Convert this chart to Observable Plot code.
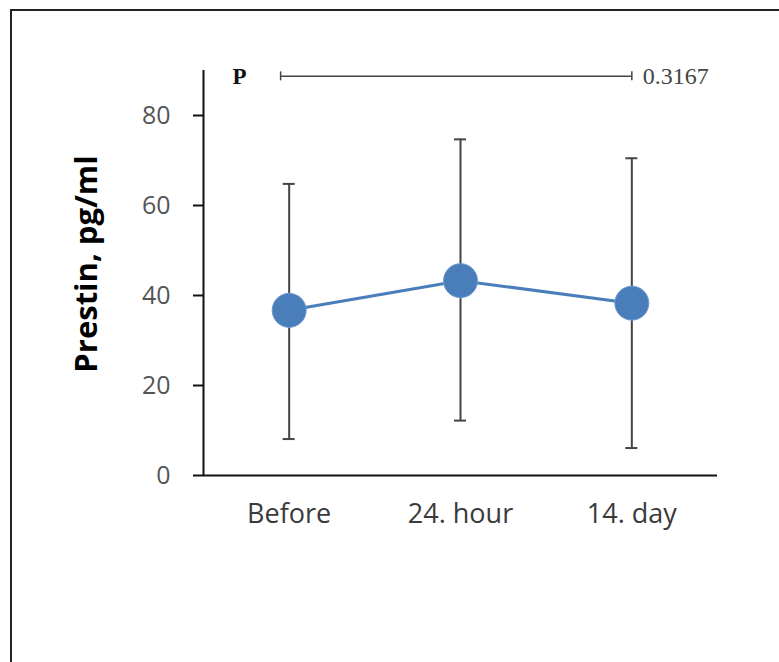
<!DOCTYPE html>
<html>
<head>
<meta charset="utf-8">
<script src="https://cdn.jsdelivr.net/npm/d3@7"></script>
<script src="https://cdn.jsdelivr.net/npm/@observablehq/plot@0.6"></script>
<style>
  html, body { margin: 0; padding: 0; background: #fff; }
  #wrap { position: relative; width: 779px; height: 662px; overflow: hidden; }
  #frame { position: absolute; left: 10px; top: 9px; width: 900px; height: 900px;
           border-top: 2px solid #222; border-left: 2px solid #222; box-sizing: border-box; pointer-events: none; }
  #chart { position: absolute; left: 0; top: 0; }
</style>
</head>
<body>
<div id="wrap"><div id="chart"></div><div id="frame"></div></div>
<script>
const categories = ["Before", "24. hour", "14. day"];
const means = [36.7, 43.3, 38.3];
const upper = [64.8, 74.7, 70.5];
const lower = [8.1, 12.2, 6.1];
const yTicks = [0, 20, 40, 60, 80];
const yLabel = "Prestin, pg/ml";
const pLabel = "P";
const pValue = "0.3167";
const bracketFrom = -0.05, bracketTo = 2, bracketY = 88.7;

const data = categories.map((c, i) => ({i, c, m: means[i], hi: upper[i], lo: lower[i]}));
const capW = 0.035;
const blue = "#4a7ebb";

const plot = Plot.plot({
  width: 779,
  height: 662,
  marginLeft: 203,
  marginRight: 62,
  marginTop: 70,
  marginBottom: 187,
  style: {fontFamily: "'Open Sans', sans-serif", background: "transparent", overflow: "visible"},
  x: {domain: [-0.5, 2.5], axis: null},
  y: {domain: [0, 90], axis: null},
  marks: [
    // y axis ticks and labels
    Plot.axisY({ticks: yTicks, tickSize: 10, tickPadding: 23, stroke: "#111", strokeWidth: 2,
      fill: "#555", fontSize: 25, label: null, tickFormat: d => String(d)}),
    // axis lines
    Plot.ruleX([-0.5], {y1: 0, y2: 90, stroke: "#111", strokeWidth: 2}),
    Plot.ruleY([0], {stroke: "#111", strokeWidth: 2}),
    // category labels
    Plot.text(data, {x: "i", y: 0, text: "c", dy: 39, fontSize: 27, fill: "#3a3a3a"}),
    // y-axis title
    Plot.text([yLabel], {x: -0.5, y: 47, text: d => d, rotate: -90, dx: -116, dy: 0,
      fontSize: 31, fontWeight: "bold", fill: "#000"}),
    // error bars
    Plot.ruleX(data, {x: "i", y1: "lo", y2: "hi", stroke: "#444", strokeWidth: 2}),
    Plot.ruleY(data, {y: "hi", x1: d => d.i - capW, x2: d => d.i + capW, stroke: "#444", strokeWidth: 2}),
    Plot.ruleY(data, {y: "lo", x1: d => d.i - capW, x2: d => d.i + capW, stroke: "#444", strokeWidth: 2}),
    // mean line and dots
    Plot.line(data, {x: "i", y: "m", stroke: blue, strokeWidth: 3}),
    Plot.dot(data, {x: "i", y: "m", r: 17, fill: blue, stroke: "#6f9ad0", strokeWidth: 1}),
    // P bracket
    Plot.ruleY([bracketY], {x1: bracketFrom, x2: bracketTo, stroke: "#444", strokeWidth: 1.5}),
    Plot.ruleX([bracketFrom, bracketTo], {y1: bracketY - 1, y2: bracketY + 1, stroke: "#444", strokeWidth: 1.5}),
    Plot.text([pLabel], {x: -0.29, y: bracketY, text: d => d, fontFamily: "'Liberation Serif', serif",
      fontWeight: "bold", fontSize: 23, fill: "#111"}),
    Plot.text([pValue], {x: bracketTo, y: bracketY, text: d => d, dx: 11, textAnchor: "start",
      fontFamily: "'Liberation Serif', serif", fontSize: 24, fill: "#444"})
  ]
});
document.getElementById("chart").appendChild(plot);
</script>
</body>
</html>
